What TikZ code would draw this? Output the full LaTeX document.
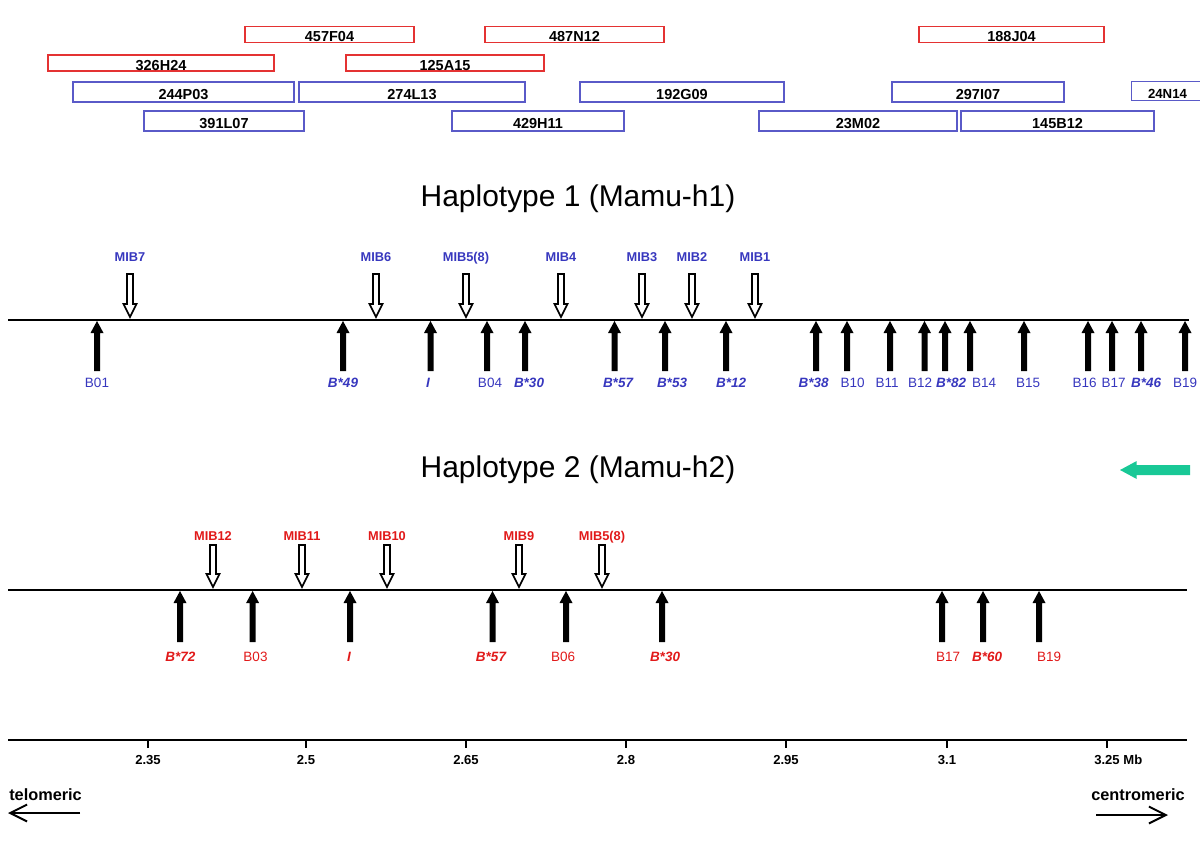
\documentclass[tikz,border=0pt]{standalone}
\usepackage{fontspec}
\setmainfont{Liberation Sans}
\usetikzlibrary{arrows.meta}
\definecolor{bluelab}{RGB}{55,55,190}
\definecolor{bluebox}{RGB}{90,90,200}
\definecolor{redlab}{RGB}{225,25,25}
\definecolor{redbox}{RGB}{228,50,50}
\definecolor{mint}{RGB}{25,200,150}
\tikzstyle{clone} = [rectangle, line width=0.9pt, inner sep=0pt, text height=10pt, text depth=0pt,
                     font=\fontsize{10.3}{12}\selectfont\bfseries]
\tikzstyle{redclone} = [clone, draw=redbox, minimum height=0.4cm]
\tikzstyle{blueclone} = [clone, draw=bluebox, minimum height=0.5cm]
\tikzstyle{title} = [anchor=base, inner sep=0pt, font=\fontsize{21.3}{25}\selectfont]
\tikzstyle{chrom} = [line width=1.45pt]
\tikzstyle{mibarrow} = [draw=black, fill=white, line width=1.25pt, line join=miter]
\tikzstyle{miblab} = [anchor=base, inner sep=0pt, font=\fontsize{9.1}{11}\selectfont\bfseries]
\tikzstyle{gn} = [anchor=base, inner sep=0pt, font=\fontsize{9.6}{11}\selectfont]
\tikzstyle{gi} = [anchor=base, inner sep=0pt, font=\fontsize{9.6}{11}\selectfont\bfseries\itshape]
\tikzstyle{tickmark} = [line width=1.45pt]
\tikzstyle{ticklab} = [anchor=base, inner sep=0pt, font=\fontsize{9.3}{11}\selectfont\bfseries]
\tikzstyle{dirlab} = [inner sep=0pt, font=\fontsize{11.6}{13}\selectfont\bfseries]
\tikzstyle{dirarrow} = [-{Straight Barb[length=12pt, width=12pt]}, line width=1.4pt]

\begin{document}
\begin{tikzpicture}[x=0.025cm, y=-0.025cm]
    \useasboundingbox (0,0) rectangle (1200,840);

    % BAC clones
    \foreach \xa/\xb/\yy/\cl in {245/414/34.5/457F04, 485/664/34.5/487N12, 919/1104/34.5/188J04,
                                 48/274/63/326H24, 346/544/63/125A15}
        \node[redclone, minimum width={(\xb-\xa)*0.025cm}] (c\cl) at ({(\xa+\xb)/2},\yy) {\cl};
    \foreach \xa/\xb/\yy/\cl in {73/294/92/244P03, 299/525/92/274L13, 580/784/92/192G09, 892/1064/92/297I07,
                                 144/304/121/391L07, 452/624/121/429H11, 759/957/121/23M02, 961/1154/121/145B12}
        \node[blueclone, minimum width={(\xb-\xa)*0.025cm}] (c\cl) at ({(\xa+\xb)/2},\yy) {\cl};
    \node[blueclone, minimum width=1.8cm, minimum height=0.46cm, font=\fontsize{9.4}{11}\selectfont\bfseries]
        (c24N14) at (1167.5,91) {24N14};

    % haplotype 1
    \node[title] (hap1) at (578,206.7) {Haplotype 1 (Mamu-h1)};
    \draw[chrom] (8,320) -- (1189,320);
    \foreach \x/\lab [count=\i] in {130/MIB7, 376/MIB6, 466/MIB5(8), 561/MIB4, 642/MIB3, 692/MIB2, 755/MIB1} {
        \draw[mibarrow] (\x,317) -- ++(-6.5,-13) -- ++(3.5,0) -- ++(0,-30) -- ++(6,0) -- ++(0,30) -- ++(3.5,0) -- cycle;
        \node[miblab, bluelab] (h1m\i) at (\x,261.6) {\lab};
    }
    \foreach \x/\lx/\lab/\st [count=\i] in {97/97/B01/gn, 343/343/B*49/gi, 430.5/428/I/gi, 487/490/B04/gn,
                                            525/529/B*30/gi, 614.5/618/B*57/gi, 665/672/B*53/gi, 726/731/B*12/gi,
                                            816/813.5/B*38/gi, 847/852.5/B10/gn, 890/887/B11/gn, 924.5/920/B12/gn,
                                            945/951/B*82/gi, 970/984/B14/gn, 1024/1028/B15/gn, 1088/1084.5/B16/gn,
                                            1112/1113.5/B17/gn, 1141/1146/B*46/gi, 1185/1185/B19/gn} {
        \fill (\x,321) -- ++(6.5,12) -- ++(-3.5,0) -- ++(0,38) -- ++(-6,0) -- ++(0,-38) -- ++(-3.5,0) -- cycle;
        \node[\st, bluelab] (h1g\i) at (\lx,387) {\lab};
    }

    % haplotype 2
    \node[title] (hap2) at (578,477.7) {Haplotype 2 (Mamu-h2)};
    \fill[mint] (1120,470) -- ++(16.7,-9) -- ++(0,4) -- ++(53.3,0) -- ++(0,10) -- ++(-53.3,0) -- ++(0,4) -- cycle;
    \draw[chrom] (8,590) -- (1187,590);
    \foreach \x/\lab [count=\i] in {213/MIB12, 302/MIB11, 387/MIB10, 519/MIB9, 602/MIB5(8)} {
        \draw[mibarrow] (\x,587) -- ++(-6.5,-13) -- ++(3.5,0) -- ++(0,-29) -- ++(6,0) -- ++(0,29) -- ++(3.5,0) -- cycle;
        \node[miblab, redlab] (h2m\i) at (\x,540.6) {\lab};
    }
    \foreach \x/\lx/\lab/\st [count=\i] in {180/180.5/B*72/gi, 252.6/255.5/B03/gn, 350/349/I/gi, 492.5/491/B*57/gi,
                                            566/563/B06/gn, 662/665/B*30/gi, 942/948/B17/gn, 983/987/B*60/gi,
                                            1039/1049/B19/gn} {
        \fill (\x,591) -- ++(6.5,12) -- ++(-3.5,0) -- ++(0,39) -- ++(-6,0) -- ++(0,-39) -- ++(-3.5,0) -- cycle;
        \node[\st, redlab] (h2g\i) at (\lx,661.5) {\lab};
    }

    % scale in Mb
    \draw[chrom] (8,740) -- (1187,740);
    \foreach \x/\lab [count=\i] in {148/2.35, 306/2.5, 466/2.65, 626/2.8, 786/2.95, 947/3.1} {
        \draw[tickmark] (\x,740) -- (\x,748);
        \node[ticklab] (t\i) at (\x,764.7) {\lab};
    }
    \draw[tickmark] (1107,740) -- (1107,748);
    \node[ticklab, anchor=base west] (t7) at (1094,764.7) {3.25 Mb};

    % orientation
    \node[dirlab, anchor=base west] (telo) at (9,800) {telomeric};
    \node[dirlab, anchor=base east] (centro) at (1185,800.5) {centromeric};
    \coordinate (telo0) at (80,813);
    \coordinate (telo1) at (8,813);
    \coordinate (cen0) at (1096,815);
    \coordinate (cen1) at (1168,815);
    \draw[dirarrow] (telo0) -- (telo1);
    \draw[dirarrow] (cen0) -- (cen1);
\end{tikzpicture}
\end{document}
